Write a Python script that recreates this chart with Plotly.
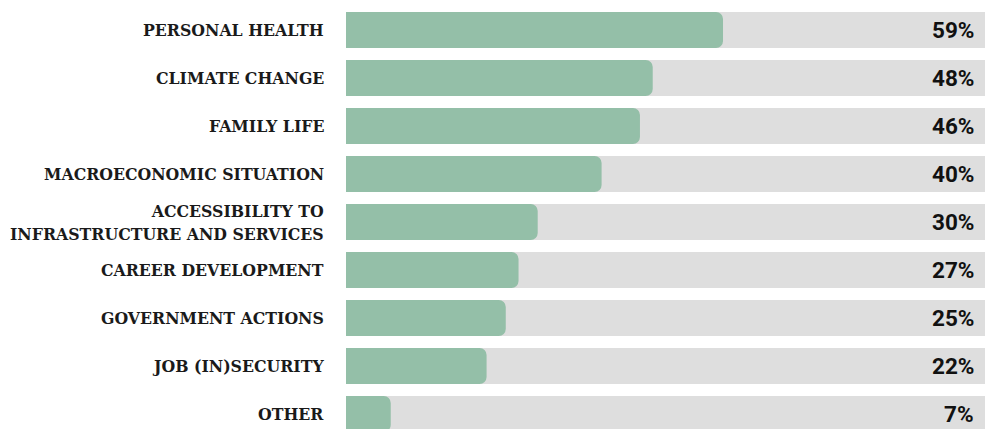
import plotly.graph_objects as go

categories = [
    "PERSONAL HEALTH",
    "CLIMATE CHANGE",
    "FAMILY LIFE",
    "MACROECONOMIC SITUATION",
    "ACCESSIBILITY TO<br>INFRASTRUCTURE AND SERVICES",
    "CAREER DEVELOPMENT",
    "GOVERNMENT ACTIONS",
    "JOB (IN)SECURITY",
    "OTHER",
]
values = [59, 48, 46, 40, 30, 27, 25, 22, 7]
full = [100] * len(values)
value_labels = [f"{v}%" for v in values]

GREEN = "#94BFA8"
GRAY = "#DEDEDE"
pos = list(range(len(categories)))

fig = go.Figure()
fig.add_trace(go.Bar(y=pos, x=full, orientation="h", yaxis="y",
                     marker=dict(color=GRAY, line=dict(width=0)),
                     width=0.75, hoverinfo="skip"))
fig.add_trace(go.Bar(y=pos, x=values, orientation="h", yaxis="y2",
                     marker=dict(color=GREEN, line=dict(width=0), cornerradius=7),
                     width=0.75))

annotations = []
for p, cat, lab in zip(pos, categories, value_labels):
    annotations.append(dict(x=0, y=p, xref="paper", yref="y", text=cat, showarrow=False,
                            xanchor="right", yanchor="middle", align="right", xshift=-20,
                            font=dict(family="DejaVu Serif Condensed, DejaVu Serif", size=17.5, color="#1a1a1a", weight="bold")))
    annotations.append(dict(x=1, y=p, xref="paper", yref="y", text=lab, showarrow=False,
                            xanchor="right", yanchor="middle", xshift=-9,
                            font=dict(family="Roboto", size=22.5, color="#111111", weight="bold")))

yr = [8.3125, -0.625]
fig.update_layout(
    width=985, height=429,
    margin=dict(l=346, r=0, t=0, b=0),
    barmode="group",
    showlegend=False,
    plot_bgcolor="white", paper_bgcolor="white",
    xaxis=dict(range=[0, 100], visible=False, fixedrange=True),
    yaxis=dict(range=yr, visible=False, fixedrange=True),
    yaxis2=dict(range=yr, visible=False, fixedrange=True, overlaying="y"),
    annotations=annotations,
)
fig.write_html("out.html", config={"displayModeBar": False},
               post_script="document.body.style.margin='0';document.body.style.overflow='hidden';")
